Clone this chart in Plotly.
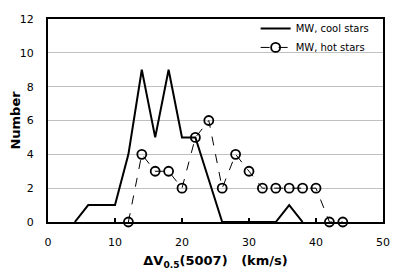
import plotly.graph_objects as go

cool_x = [4, 6, 8, 10, 12, 14, 16, 18, 20, 22, 24, 26, 28, 30, 32, 34, 36, 38]
cool_y = [0, 1, 1, 1, 4, 9, 5, 9, 5, 5, 2.5, 0, 0, 0, 0, 0, 1, 0]
hot_x = [12, 14, 16, 18, 20, 22, 24, 26, 28, 30, 32, 34, 36, 38, 40, 42, 44]
hot_y = [0, 4, 3, 3, 2, 5, 6, 2, 4, 3, 2, 2, 2, 2, 2, 0, 0]
x_ticks = [0, 10, 20, 30, 40, 50]
y_ticks = [0, 2, 4, 6, 8, 10, 12]

font = "DejaVu Sans, Verdana, sans-serif"

fig = go.Figure()
fig.add_trace(go.Scatter(x=cool_x, y=cool_y, mode="lines", name="MW, cool stars",
                         line=dict(color="black", width=2), cliponaxis=False))
fig.add_trace(go.Scatter(x=hot_x, y=hot_y, mode="lines+markers", name="MW, hot stars",
                         line=dict(color="black", width=1, dash="dash"),
                         marker=dict(symbol="circle-open", size=9, color="black",
                                     line=dict(width=1.8, color="black")),
                         cliponaxis=False))

fig.update_layout(
    width=399, height=264,
    margin=dict(l=40, r=24, t=11, b=50, autoexpand=False),
    paper_bgcolor="white", plot_bgcolor="white",
    font=dict(family=font, size=11, color="black"),
    showlegend=True,
    legend=dict(x=0.975, y=1.025, xanchor="right", yanchor="top",
                bgcolor="rgba(0,0,0,0)", font=dict(size=10, family=font),
                tracegroupgap=0, itemwidth=30),
    xaxis=dict(range=[0, 50], tickvals=x_ticks, showgrid=False, zeroline=False,
               showline=True, linecolor="black", linewidth=2, mirror=True, automargin=False,
               ticks="inside", ticklen=4, tickwidth=1.5, tickcolor="black",
               ticklabelstandoff=9,
               title=dict(text="<b>ΔV<sub>0.5</sub>(5007)   (km/s)</b>", font=dict(size=13), standoff=8)),
    yaxis=dict(range=[0, 12], tickvals=y_ticks, showgrid=True, gridcolor="#c0c0c0", gridwidth=1,
               zeroline=False, showline=True, linecolor="black", linewidth=2, mirror=True,
               automargin=False, ticks="", ticklabelstandoff=10,
               title=dict(text="<b>Number</b>", font=dict(size=13), standoff=3)),
)

fig.write_html("out.html")
